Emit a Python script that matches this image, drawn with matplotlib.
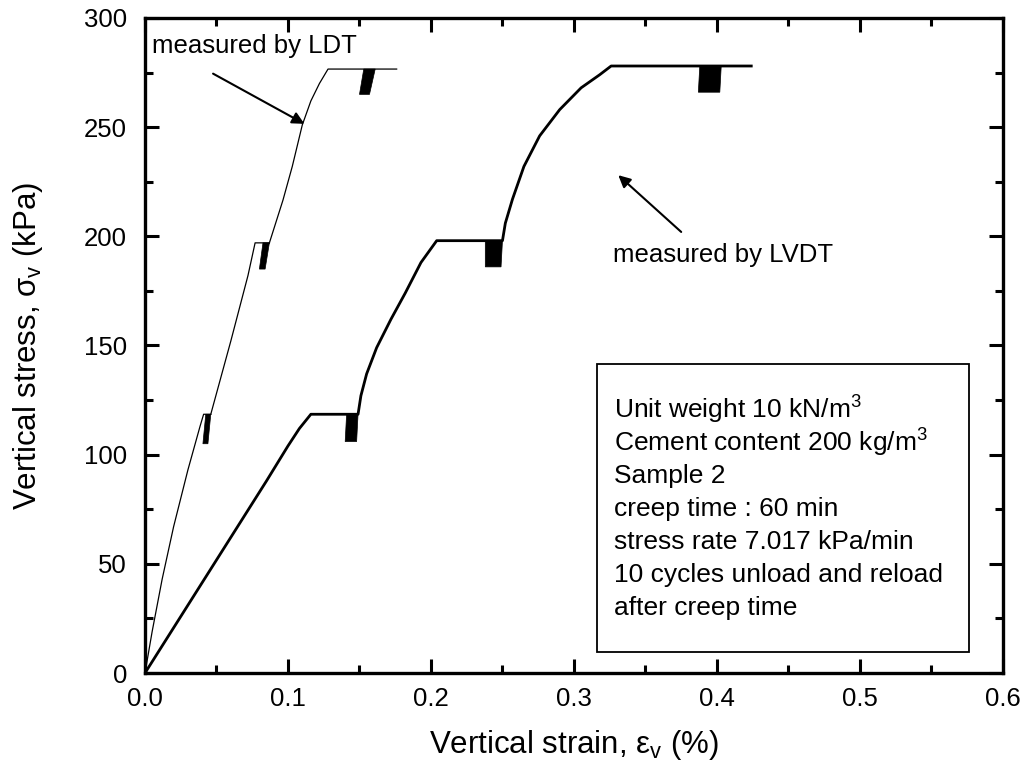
import matplotlib.pyplot as plt
from matplotlib.ticker import MultipleLocator

plt.rcParams['font.family'] = ['Liberation Sans', 'DejaVu Sans']
plt.rcParams['mathtext.fontset'] = 'custom'
plt.rcParams['mathtext.rm'] = 'Liberation Sans'
plt.rcParams['mathtext.it'] = 'Liberation Sans'

# strain (%) / stress (kPa) readings, LDT
ldt_strain = [0.0, 0.005, 0.012, 0.020, 0.030, 0.0385, 0.041, 0.046,
              None,
              0.046, 0.060, 0.072, 0.077, 0.087,
              None,
              0.087, 0.0965, 0.103, 0.110, 0.116, 0.122, 0.128, 0.176]
ldt_stress = [0, 19, 43, 67, 93, 113, 118.5, 118.5,
              None,
              118.5, 152, 182, 197, 197,
              None,
              197, 216.6, 232, 251, 262, 270, 276.6, 276.6]

# strain (%) / stress (kPa) readings, LVDT
lvdt_strain = [0.0, 0.085, 0.100, 0.108, 0.116, 0.149,
               0.151, 0.155, 0.162, 0.172, 0.182, 0.193, 0.204, 0.250,
               0.252, 0.257, 0.265, 0.276, 0.290, 0.305, 0.318, 0.326, 0.424]
lvdt_stress = [0, 88, 104, 112, 118.5, 118.5,
               127, 137, 149, 162, 174, 188, 198, 198,
               206, 217, 232, 246, 258, 268, 274, 278, 278]

# unload/reload cycles: strain at top, strain at bottom, stress top, stress bottom
ldt_cyc_top = [(0.0425, 0.0460), (0.0825, 0.0870), (0.1530, 0.1610)]
ldt_cyc_bot = [(0.0405, 0.0440), (0.0800, 0.0840), (0.1500, 0.1570)]
ldt_cyc_stress = [(118.5, 105), (197, 185), (276.6, 265)]

lvdt_cyc_top = [(0.141, 0.149), (0.238, 0.250), (0.388, 0.403)]
lvdt_cyc_bot = [(0.140, 0.148), (0.238, 0.249), (0.387, 0.402)]
lvdt_cyc_stress = [(118.5, 106), (198, 186), (278, 266)]

info_lines = ['Unit weight 10 kN/m$^3$',
              'Cement content 200 kg/m$^3$',
              'Sample 2',
              'creep time : 60 min',
              'stress rate 7.017 kPa/min',
              '10 cycles unload and reload',
              'after creep time']

fig = plt.figure(figsize=(10.35, 7.71), dpi=100)
ax = fig.add_axes([0.1401, 0.1271, 0.8289, 0.8496])

def split(xs, ys):
    segs, cx, cy = [], [], []
    for x, y in zip(xs, ys):
        if x is None:
            segs.append((cx, cy)); cx, cy = [], []
        else:
            cx.append(x); cy.append(y)
    segs.append((cx, cy))
    return segs

for sx, sy in split(ldt_strain, ldt_stress):
    ax.plot(sx, sy, color='black', lw=0.9)
ax.plot(lvdt_strain, lvdt_stress, color='black', lw=2.0)

def draw_cycles(tops, bots, stresses):
    for (t0, t1), (b0, b1), (s_top, s_bot) in zip(tops, bots, stresses):
        ax.fill([t0, t1, b1, b0], [s_top, s_top, s_bot, s_bot],
                color='black', lw=0.5)

draw_cycles(ldt_cyc_top, ldt_cyc_bot, ldt_cyc_stress)
draw_cycles(lvdt_cyc_top, lvdt_cyc_bot, lvdt_cyc_stress)

# annotations
ax.text(0.005, 287, 'measured by LDT', fontsize=18.5, va='center', ha='left')
ax.annotate('', xy=(0.1115, 251.5), xytext=(0.0476, 274.5),
            arrowprops=dict(arrowstyle='-|>', color='black', lw=1.5,
                            mutation_scale=18, shrinkA=0, shrinkB=0))
ax.text(0.327, 191.5, 'measured by LVDT', fontsize=18.5, va='center', ha='left')
ax.annotate('', xy=(0.331, 228), xytext=(0.375, 202),
            arrowprops=dict(arrowstyle='-|>', color='black', lw=1.5,
                            mutation_scale=18, shrinkA=0, shrinkB=0))

# info box
box = plt.Rectangle((0.316, 9.6), 0.260, 131.9, fill=False, lw=1.3,
                    edgecolor='black')
ax.add_patch(box)
for i, line in enumerate(info_lines):
    ax.text(0.328, 120.5 - i * 15.1, line, fontsize=19, va='center', ha='left')

ax.set_xlim(0, 0.6)
ax.set_ylim(0, 300)
ax.xaxis.set_major_locator(MultipleLocator(0.1))
ax.xaxis.set_minor_locator(MultipleLocator(0.05))
ax.yaxis.set_major_locator(MultipleLocator(50))
ax.yaxis.set_minor_locator(MultipleLocator(25))
ax.set_xticks([0, 0.1, 0.2, 0.3, 0.4, 0.5, 0.6])
ax.set_xticklabels(['0.0', '0.1', '0.2', '0.3', '0.4', '0.5', '0.6'])
ax.tick_params(which='both', direction='in', top=True, right=True,
               width=2.2, labelsize=18.5)
ax.tick_params(which='major', length=10)
ax.tick_params(axis='x', which='major', pad=10)
ax.tick_params(axis='y', which='major', pad=13)
ax.tick_params(which='minor', length=6)
for sp in ax.spines.values():
    sp.set_linewidth(2.4)

ax.set_xlabel(r'Vertical strain, $\varepsilon_\mathrm{v}$ (%)', fontsize=22.5)
ax.set_ylabel(r'Vertical stress, $\sigma_\mathrm{v}$ (kPa)', fontsize=22.5)
ax.xaxis.set_label_coords(0.5, -0.084)
ax.yaxis.set_label_coords(-0.117, 0.5)

fig.savefig('out.png', dpi=100)
